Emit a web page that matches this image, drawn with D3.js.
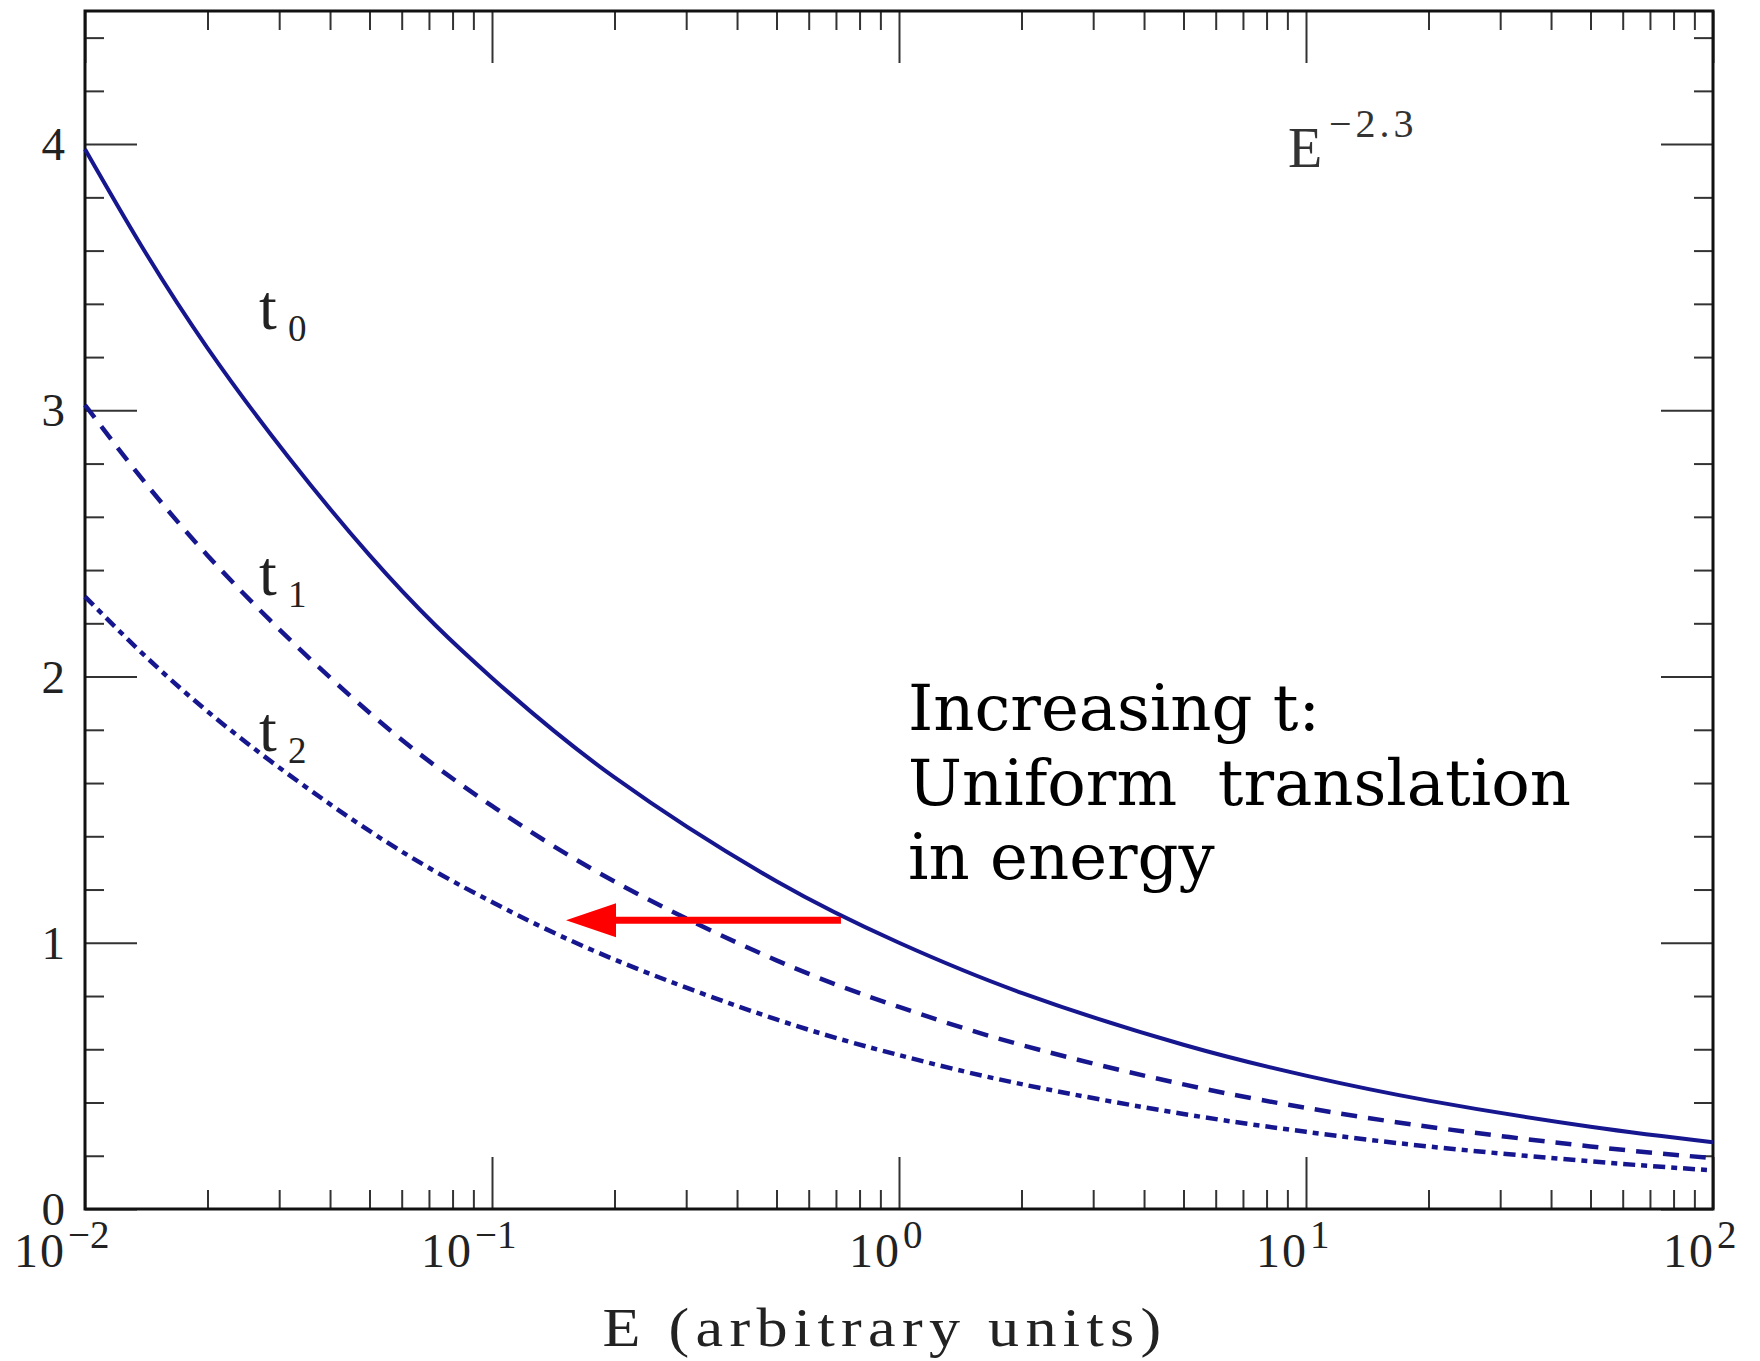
<!DOCTYPE html>
<html>
<head>
<meta charset="utf-8">
<script src="https://cdn.jsdelivr.net/npm/d3@7"></script>
<style>
  body { margin: 0; background: #fff; }
  svg { display: block; }
</style>
</head>
<body>
<svg id="chart" width="1760" height="1361"></svg>
<script>
// energies (log axis) and the three spectra
const energies = [0.01, 0.02, 0.05, 0.1, 0.2, 0.5, 1, 2, 5, 10, 20, 50, 100];
const t0Values = [3.981, 3.234, 2.456, 1.995, 1.621, 1.231, 1.000, 0.812, 0.617, 0.501, 0.407, 0.309, 0.251];
const t1Values = [3.020, 2.455, 1.864, 1.514, 1.230, 0.934, 0.759, 0.616, 0.468, 0.380, 0.309, 0.235, 0.191];
const t2Values = [2.300, 1.869, 1.420, 1.153, 0.937, 0.712, 0.578, 0.469, 0.357, 0.290, 0.235, 0.179, 0.145];

const yTicks = [0, 1, 2, 3, 4];
const xTickExponents = [-2, -1, 0, 1, 2];
const curveSubscripts = ["0", "1", "2"];
const noteLines = ["Increasing t:", "Uniform  translation", "in energy"];
const powerLabel = ["E", "\u22122.3"];
const xTitle = "E (arbitrary units)";
const arrowFrom = [0.72, 1.085];
const arrowTo = [0.152, 1.085];

const svg = d3.select("#chart");
const plotLeft = 85, plotRight = 1713, plotTop = 11, plotBottom = 1209;

const x = d3.scaleLog().domain([0.01, 100]).range([plotLeft, plotRight]);
const y = d3.scaleLinear().domain([0, 4.5]).range([plotBottom, plotTop]);

const minorX = [];
for (let k = -2; k < 2; k++) {
    for (let m = 2; m < 10; m++) minorX.push(m * Math.pow(10, k));
}
const majorX = xTickExponents.map(e => Math.pow(10, e));
const minorY = d3.range(1, 23).map(i => i * 0.2).filter(v => Math.abs(v - Math.round(v)) > 1e-6);

svg.append("rect").attr("width", 1760).attr("height", 1361).attr("fill", "#fff");

function addTicks(axis, tx, ty) {
    const g = svg.append("g")
        .attr("transform", `translate(${tx},${ty})`)
        .call(axis);
    g.select(".domain").remove();
    g.selectAll(".tick text").remove();
    g.selectAll(".tick line").attr("stroke", "#333").attr("stroke-width", 2);
}

// ticks point inward on all four sides
addTicks(d3.axisBottom(x).tickValues(minorX).tickSize(-19).tickFormat(""), 0, plotBottom);
addTicks(d3.axisBottom(x).tickValues(majorX).tickSize(-52).tickFormat(""), 0, plotBottom);
addTicks(d3.axisTop(x).tickValues(minorX).tickSize(-19).tickFormat(""), 0, plotTop);
addTicks(d3.axisTop(x).tickValues(majorX).tickSize(-52).tickFormat(""), 0, plotTop);
addTicks(d3.axisLeft(y).tickValues(minorY).tickSize(-19).tickFormat(""), plotLeft, 0);
addTicks(d3.axisLeft(y).tickValues(yTicks).tickSize(-52).tickFormat(""), plotLeft, 0);
addTicks(d3.axisRight(y).tickValues(minorY).tickSize(-19).tickFormat(""), plotRight, 0);
addTicks(d3.axisRight(y).tickValues(yTicks).tickSize(-52).tickFormat(""), plotRight, 0);

svg.append("rect")
    .attr("x", plotLeft).attr("y", plotTop)
    .attr("width", plotRight - plotLeft).attr("height", plotBottom - plotTop)
    .attr("fill", "none").attr("stroke", "#111").attr("stroke-width", 3);

// y labels
svg.selectAll(".ylab").data(yTicks).enter().append("text")
    .attr("x", plotLeft - 20).attr("y", d => y(d) + 16)
    .attr("text-anchor", "end")
    .attr("font-family", "Liberation Serif").attr("font-size", 47).attr("fill", "#222")
    .text(d => d);

// x labels 10^n
xTickExponents.forEach(e => {
    const px = x(Math.pow(10, e));
    const end = px + (e < 0 ? -19 : 2);
    svg.append("text")
        .attr("x", end).attr("y", 1267)
        .attr("text-anchor", "end")
        .attr("font-family", "Liberation Serif").attr("font-size", 48).attr("fill", "#222")
        .attr("letter-spacing", 2)
        .text("10");
    svg.append("text")
        .attr("x", end + 2).attr("y", 1248)
        .attr("font-family", "Liberation Serif").attr("font-size", 39).attr("fill", "#222")
        .text(e < 0 ? "\u2212" + (-e) : String(e));
});

// axis title, glyphs widened a bit like the old plotting font
svg.append("text")
    .attr("transform", "translate(885,1346) scale(1.15,1)")
    .attr("text-anchor", "middle")
    .attr("font-family", "Liberation Serif").attr("font-size", 54).attr("fill", "#222")
    .attr("letter-spacing", 5.5)
    .text(xTitle);

// curves
const line = d3.line()
    .x((d, i) => x(energies[i]))
    .y(d => y(d))
    .curve(d3.curveNatural);

const series = [
    { values: t0Values, dash: null, width: 4 },
    { values: t1Values, dash: "16,11", width: 4.5 },
    { values: t2Values, dash: "12,6,6,6", width: 4.5 }
];
series.forEach(s => {
    svg.append("path")
        .attr("d", line(s.values))
        .attr("fill", "none")
        .attr("stroke", "#16168f")
        .attr("stroke-width", s.width)
        .attr("stroke-dasharray", s.dash);
});

// t0, t1, t2 labels
const labelBaselines = [329, 595, 751];
curveSubscripts.forEach((sub, i) => {
    svg.append("text")
        .attr("x", 259).attr("y", labelBaselines[i])
        .attr("font-family", "Liberation Serif").attr("font-size", 64).attr("fill", "#222")
        .text("t");
    svg.append("text")
        .attr("x", 288).attr("y", labelBaselines[i] + 12)
        .attr("font-family", "Liberation Serif").attr("font-size", 37).attr("fill", "#222")
        .text(sub);
});

// E^-2.3
svg.append("text")
    .attr("x", 1288).attr("y", 167)
    .attr("font-family", "Liberation Serif").attr("font-size", 56).attr("fill", "#333")
    .text(powerLabel[0]);
svg.append("text")
    .attr("x", 1329).attr("y", 137)
    .attr("font-family", "Liberation Serif").attr("font-size", 40).attr("fill", "#333")
    .attr("letter-spacing", 4)
    .text(powerLabel[1]);

// note
svg.selectAll(".note").data(noteLines).enter().append("text")
    .attr("x", 908).attr("y", (d, i) => 730 + i * 74.5)
    .attr("font-family", "DejaVu Serif").attr("font-size", 64).attr("fill", "#000")
    .style("white-space", "pre")
    .text(d => d);

// red arrow
const ay = y(arrowFrom[1]);
const tipX = x(arrowTo[0]);
svg.append("line")
    .attr("x1", x(arrowFrom[0])).attr("y1", ay)
    .attr("x2", tipX + 45).attr("y2", ay)
    .attr("stroke", "#ff0000").attr("stroke-width", 7);
svg.append("path")
    .attr("d", `M${tipX},${ay}L${tipX + 50},${ay - 17}L${tipX + 50},${ay + 17}Z`)
    .attr("fill", "#ff0000");
</script>
</body>
</html>
